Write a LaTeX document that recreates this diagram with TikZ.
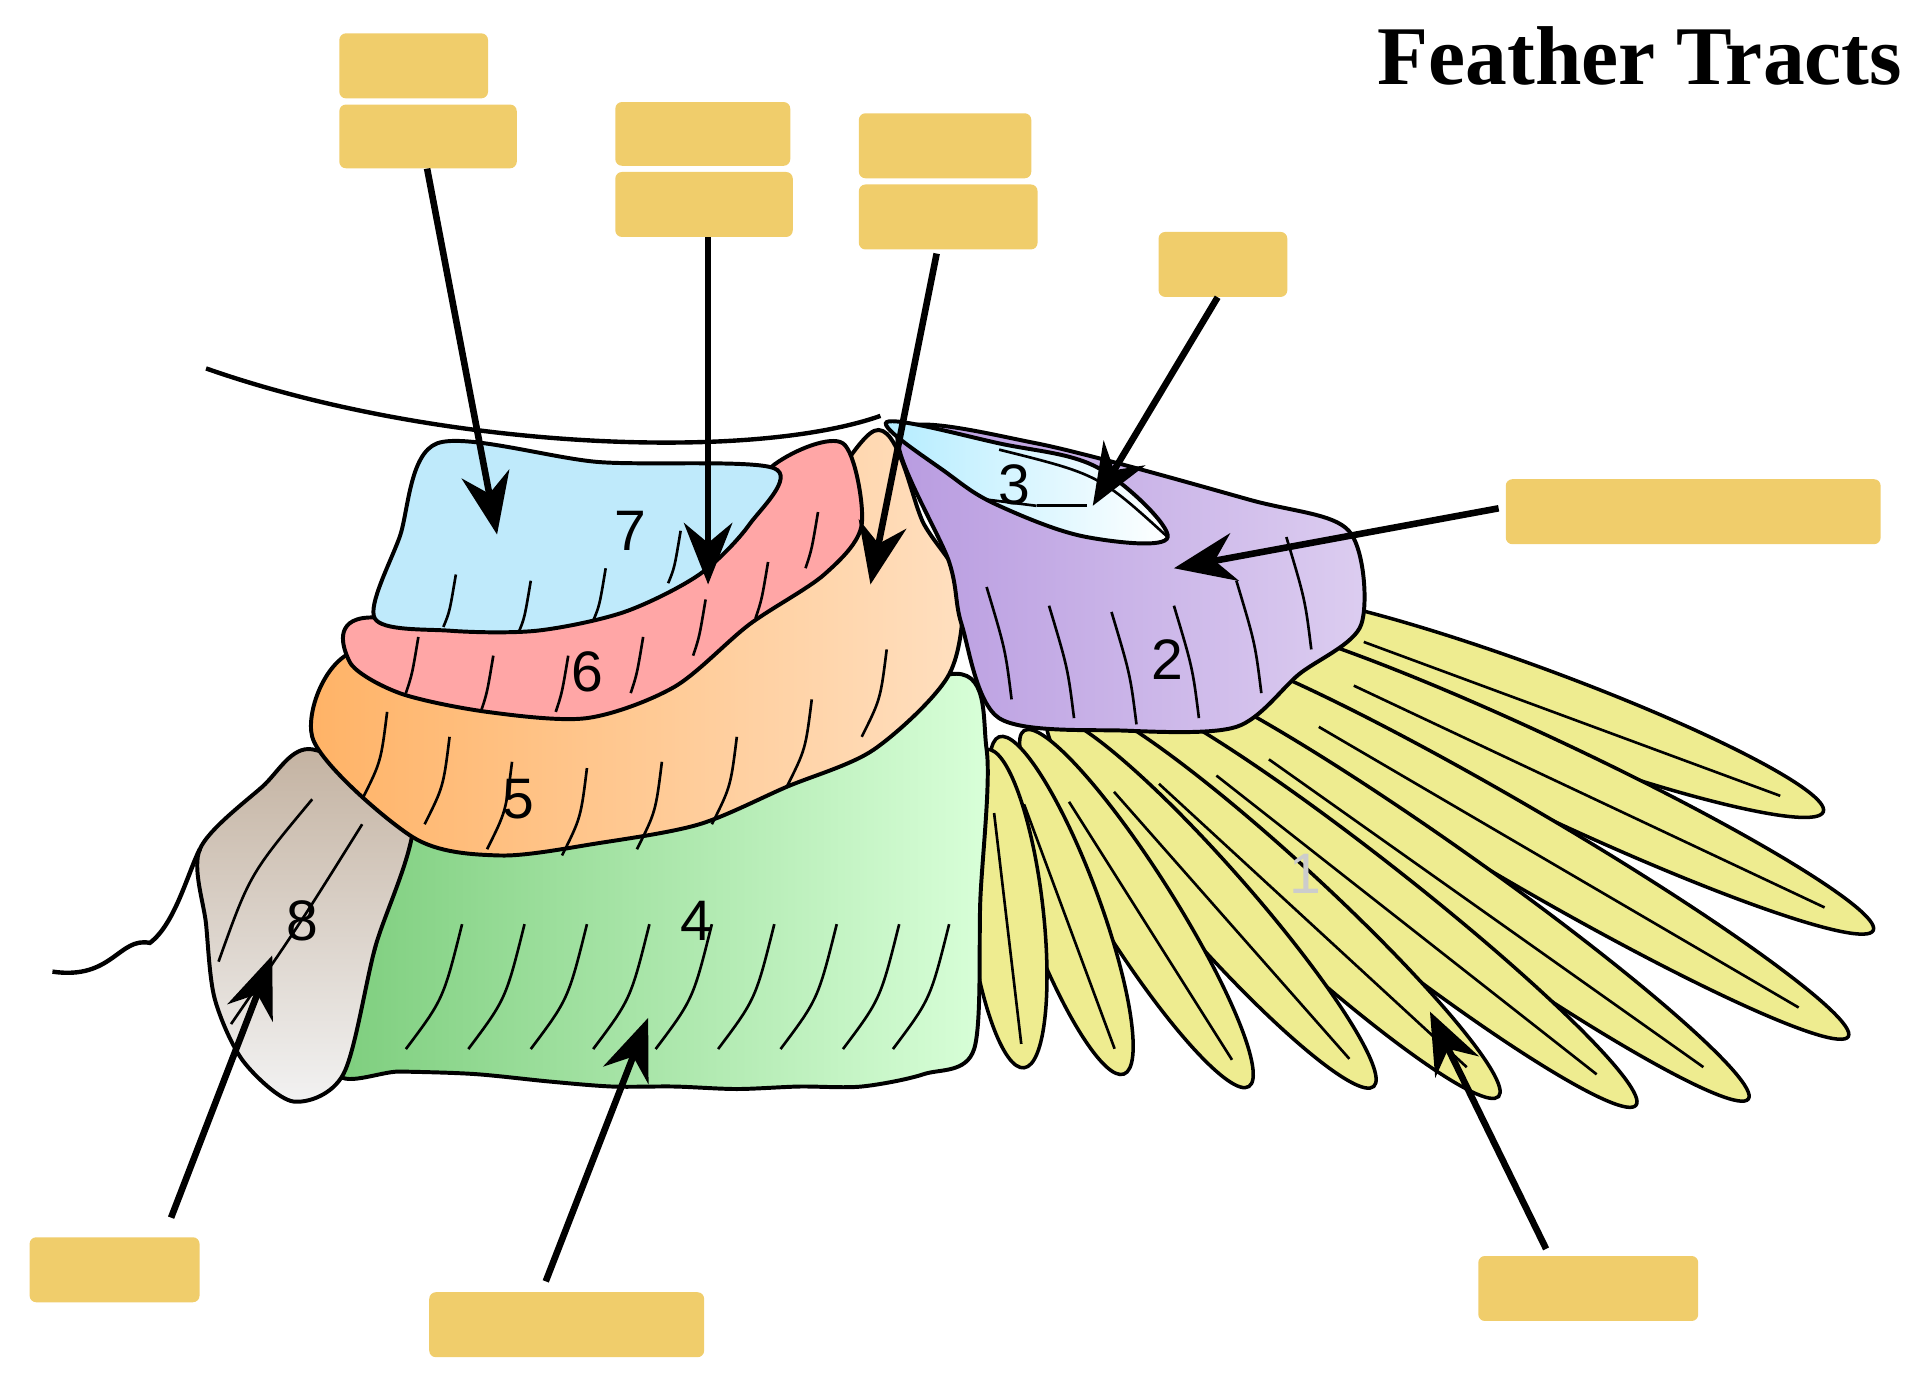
\documentclass[tikz,border=0pt]{standalone}
\usepackage{fontspec}
\setmainfont{Liberation Serif}
\setsansfont{Liberation Sans}
\usetikzlibrary{arrows.meta}
\definecolor{lab}{HTML}{F0CD6B}
\definecolor{yel}{HTML}{EEEC90}
\definecolor{pur}{HTML}{B89BE0}
\definecolor{pur2}{HTML}{DCCDF0}
\tikzset{
 box/.style={fill=lab,draw=none,rounded corners=1.5pt,anchor=north west,inner sep=0pt},
 arr/.style={line width=1.5pt,-{Stealth[length=14pt,width=11pt]}},
 feat/.style={fill=yel,draw=black,line width=0.8pt},
 reg/.style={draw=black,line width=0.9pt},
 num/.style={font=\sffamily\fontsize{13}{13}\selectfont},
 ln/.style={line width=0.6pt}
}
\newcommand\fea[4]{%
 \pgfmathsetmacro\fang{atan2(-(#4-#2),#3-#1)}%
 \pgfmathsetmacro\flen{veclen(#3-#1,#4-#2)/2}%
 \filldraw[feat,rotate around={\fang:({(#1+#3)/2},{(#2+#4)/2})}] ({(#1+#3)/2},{(#2+#4)/2}) ellipse [x radius=\flen, y radius=30];
 \draw[ln,rotate around={\fang:({(#1+#3)/2},{(#2+#4)/2})}] ({(#1+#3)/2-\flen*0.6},{(#2+#4)/2}) -- ({(#1+#3)/2+\flen*0.85},{(#2+#4)/2});}
\begin{document}
\begin{tikzpicture}[x=0.01cm,y=-0.01cm]
\useasboundingbox (0,0) rectangle (1547,1105);
% primaries
\fea{1000}{480}{1460}{650}
\fea{980}{500}{1500}{745}
\fea{950}{520}{1480}{830}
\fea{920}{540}{1400}{880}
\fea{890}{555}{1310}{885}
\fea{860}{565}{1200}{878}
\fea{840}{575}{1100}{870}
\fea{820}{585}{1000}{870}
\fea{800}{590}{900}{860}
\fea{790}{600}{820}{855}
% green 4
\draw[reg,left color=green!45!gray!70,right color=green!15!white] plot[smooth cycle,tension=0.5] coordinates {(330,660) (560,640) (760,540) (790,600) (785,720) (780,840) (740,860) (690,870) (640,870) (590,872) (540,870) (490,870) (440,866) (380,860) (320,858) (270,858) (300,760)};
\foreach \x in {350,400,450,500,550,600,650,700,740}
 \draw[ln] (\x+20,740) .. controls (\x+5,800) .. (\x-25,840);
% beige 8
\draw[reg,top color=brown!45!gray!60,bottom color=gray!10] plot[smooth cycle,tension=0.5] coordinates {(160,680) (210,630) (250,600) (330,650) (300,760) (275,860) (235,882) (195,850) (172,800) (165,740)};
\draw[ln] (290,660) .. controls (240,740) .. (185,820);
\draw[ln] (250,640) .. controls (200,700) .. (175,770);
% orange/peach 5
\draw[reg,left color=orange!60!white,right color=orange!25!white] plot[smooth cycle,tension=0.5] coordinates {(250,590) (290,520) (450,570) (600,480) (700,345) (740,420) (770,470) (760,540) (700,600) (630,630) (560,660) (480,675) (400,685) (330,670)};
\foreach \x/\y in {300/610,350/630,400/650,460/655,520/650,580/630,640/600,700/560}
 \draw[ln] (\x+10,\y-40) .. controls (\x+5,\y) .. (\x-10,\y+30);
% red 6
\draw[reg,fill=red!35!white] plot[smooth cycle,tension=0.5] coordinates {(290,495) (450,500) (560,440) (620,372) (675,355) (690,420) (660,460) (600,500) (540,550) (470,575) (390,570) (320,555) (280,530)};
\foreach \x/\y in {330/540,390/555,450/555,510/540,560/510,610/480,650/440}
 \draw[ln] (\x+5,\y-30) .. controls (\x,\y) .. (\x-5,\y+15);
% cyan 7
\draw[reg,fill=cyan!25!white] plot[smooth cycle,tension=0.5] coordinates {(350,355) (480,370) (620,375) (600,420) (560,460) (500,490) (430,505) (360,505) (300,495) (320,430)};
\foreach \x/\y in {360/490,420/495,480/485,540/455}
 \draw[ln] (\x+5,\y-30) .. controls (\x,\y) .. (\x-5,\y+12);
% purple 2
\draw[reg,left color=pur,right color=pur2] plot[smooth cycle,tension=0.5] coordinates {(720,345) (830,355) (1000,400) (1080,425) (1090,500) (1040,540) (990,582) (900,585) (800,575) (770,500) (760,450)};
\foreach \x/\y in {810/560,860/575,910/580,960/575,1010/555,1050/520}
 \draw[ln] (\x-20,\y-90) .. controls (\x-5,\y-40) .. (\x,\y);
% light blue 3
\draw[reg,left color=blue!25!cyan!30,right color=white] plot[smooth cycle,tension=0.6] coordinates {(710,338) (800,355) (880,375) (935,430) (870,430) (800,405) (760,380)};
\draw[ln] (800,360) .. controls (880,380) .. (935,430);
\draw[ln] (790,400) -- (830,405);
\draw[ln] (830,405) -- (870,405);
% body outline
\draw[line width=1pt] (165,295) .. controls (350,360) and (600,370) .. (705,333);
\draw[line width=1pt] (42,778) .. controls (90,785) and (95,750) .. (120,755) .. controls (140,740) and (150,700) .. (160,680);
% numbers
\node[num] (n7) at (505,425) {7};
\node[num] (n6) at (470,538) {6};
\node[num] (n5) at (415,640) {5};
\node[num] (n4) at (558,737) {4};
\node[num] (n8) at (242,737) {8};
\node[num] (n3) at (812,388) {3};
\node[num] (n2) at (935,528) {2};
\node[num,text=black!20] (n1) at (1045,700) {1};
% title
\node[font=\bfseries\fontsize{19}{22}\selectfont] (title) at (1313,45) {Feather Tracts};
% boxes
\node[box,minimum width=1.19cm,minimum height=0.52cm] (a1) at (271,26) {};
\node[box,minimum width=1.42cm,minimum height=0.51cm] (a2) at (271,83) {};
\node[box,minimum width=1.40cm,minimum height=0.51cm] (b1) at (492,81) {};
\node[box,minimum width=1.42cm,minimum height=0.52cm] (b2) at (492,137) {};
\node[box,minimum width=1.38cm,minimum height=0.52cm] (c1) at (687,90) {};
\node[box,minimum width=1.43cm,minimum height=0.52cm] (c2) at (687,147) {};
\node[box,minimum width=1.03cm,minimum height=0.52cm] (d) at (927,185) {};
\node[box,minimum width=3.00cm,minimum height=0.52cm] (e) at (1205,383) {};
\node[box,minimum width=1.36cm,minimum height=0.52cm] (f) at (23,990) {};
\node[box,minimum width=2.20cm,minimum height=0.52cm] (g) at (343,1034) {};
\node[box,minimum width=1.76cm,minimum height=0.52cm] (h) at (1183,1005) {};
% targets
\coordinate (ta) at (398,428);
\coordinate (tb) at (567,468);
\coordinate (tc) at (697,468);
\coordinate (td) at (875,405);
\coordinate (te) at (940,455);
\coordinate (tf) at (218,765);
\coordinate (tg) at (519,815);
\coordinate (th) at (1145,810);
\draw[arr] (342,135) -- (ta);
\draw[arr] (567,190) -- (tb);
\draw[arr] (750,203) -- (tc);
\draw[arr] (975,238) -- (td);
\draw[arr] (1200,407) -- (te);
\draw[arr] (137,975) -- (tf);
\draw[arr] (437,1026) -- (tg);
\draw[arr] (1238,1000) -- (th);
\end{tikzpicture}
\end{document}
